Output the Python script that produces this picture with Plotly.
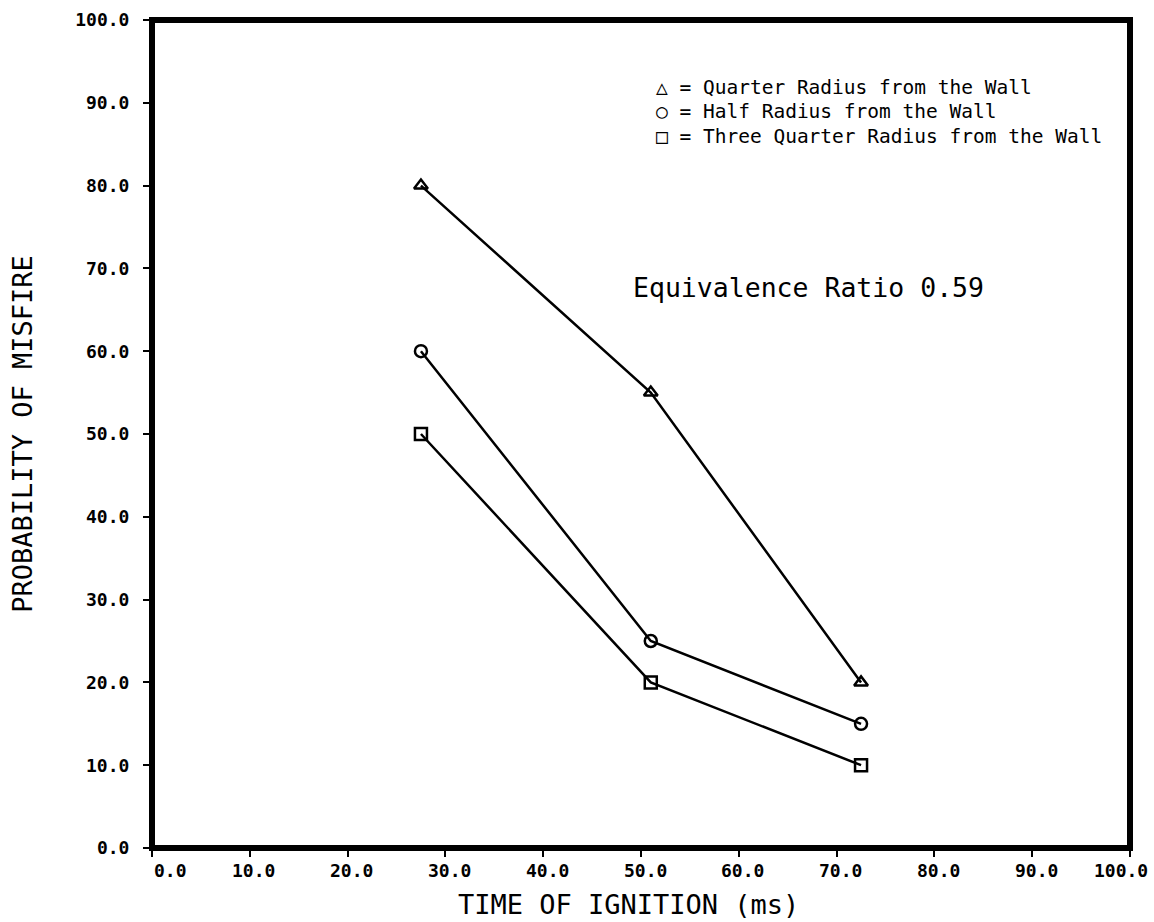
import plotly.graph_objects as go

# Ignition timing (ms) and misfire probability (%) for each probe location
ignition_time = [27.5, 51.0, 72.5]
quarter_radius = [80.0, 55.0, 20.0]
half_radius = [60.0, 25.0, 15.0]
three_quarter_radius = [50.0, 20.0, 10.0]

tick_vals = [0, 10, 20, 30, 40, 50, 60, 70, 80, 90, 100]
tick_text = ["0.0", "10.0", "20.0", "30.0", "40.0", "50.0",
             "60.0", "70.0", "80.0", "90.0", "100.0"]

legend_lines = [
    "\u25b3 = Quarter Radius from the Wall",
    "\u25cb = Half Radius from the Wall",
    "\u25a1 = Three Quarter Radius from the Wall",
]

mono = "DejaVu Sans Mono"
tick_font = dict(family=mono, size=18, color="black", weight="bold")
title_font = dict(family=mono, size=27, color="black")
line_style = dict(color="black", width=2.5)

fig = go.Figure()
for ys, sym in [(quarter_radius, "triangle-up-open"),
                (half_radius, "circle-open"),
                (three_quarter_radius, "square-open")]:
    fig.add_trace(go.Scatter(
        x=ignition_time, y=ys, mode="lines+markers",
        line=line_style,
        marker=dict(symbol=sym, size=12, color="black",
                    line=dict(color="black", width=2.5)),
        showlegend=False,
    ))

axis_common = dict(
    range=[0, 100], tickvals=tick_vals, ticktext=tick_text,
    ticks="outside", ticklen=8, tickwidth=2, tickcolor="black",
    showgrid=False, zeroline=False, showline=False, tickfont=tick_font,
    automargin=False,
)

# x tick labels and title are placed as annotations so the end labels can overhang
fig.update_xaxes(showticklabels=False, **axis_common)
fig.update_yaxes(
    ticklabelstandoff=10,
    title=dict(text="PROBABILITY OF MISFIRE", standoff=34, font=title_font),
    **axis_common,
)

for v, t in zip(tick_vals, tick_text):
    if v == tick_vals[0]:
        anchor, shift = "left", 0
    elif v == tick_vals[-1]:
        anchor, shift = "right", 20
    else:
        anchor, shift = "center", 4
    fig.add_annotation(x=v, xref="x", y=0, yref="paper", text=t,
                       showarrow=False, xanchor=anchor, yanchor="top",
                       xshift=shift, yshift=-10, font=tick_font)

fig.add_annotation(x=0.487, xref="paper", y=0, yref="paper",
                   text="TIME OF IGNITION (ms)", showarrow=False,
                   xanchor="center", yanchor="middle", yshift=-56,
                   font=title_font)

# Heavy frame around the plotting area
fig.add_shape(type="rect", xref="paper", yref="paper", x0=0, y0=0, x1=1, y1=1,
              line=dict(color="black", width=6))

# Legend block drawn as text
for i, txt in enumerate(legend_lines):
    fig.add_annotation(xref="paper", yref="paper", x=0.513, y=0.919 - i * 0.030,
                       text=txt, showarrow=False, xanchor="left", yanchor="middle",
                       font=dict(family=mono, size=19.5, color="black"))

fig.add_annotation(xref="paper", yref="paper", x=0.49, y=0.6775,
                   text="Equivalence Ratio 0.59", showarrow=False,
                   xanchor="left", yanchor="middle",
                   font=dict(family=mono, size=26.5, color="black"))

fig.update_layout(
    width=1154, height=922,
    margin=dict(l=152, r=24, t=20, b=74),
    paper_bgcolor="white", plot_bgcolor="white",
)

fig.write_html("out.html")
